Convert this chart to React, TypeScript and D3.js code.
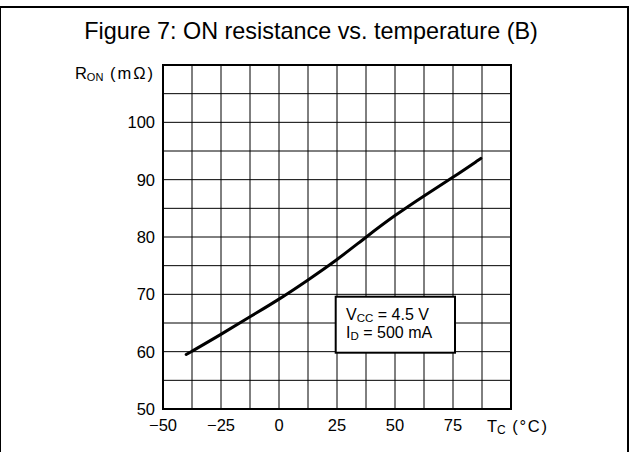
import React from "react";
import * as d3 from "d3";

const temps = [-40, -25, -12.5, 0, 12.5, 25, 37.5, 50, 62.5, 75, 87];
const ron = [59.5, 63.0, 66.1, 69.1, 72.5, 76.0, 80.0, 83.8, 87.2, 90.4, 93.7];
const xTickLabels = [-50, -25, 0, 25, 50, 75];
const yTickLabels = [50, 60, 70, 80, 90, 100];
const xGrid = d3.range(-50, 100.01, 12.5);
const yGrid = d3.range(50, 110.01, 5);

const W = 629;
const H = 452;
const FONT = "'Liberation Sans', Arial, Helvetica, sans-serif";

export default function App() {
  const x = d3.scaleLinear().domain([-50, 100]).range([163, 511]);
  const y = d3.scaleLinear().domain([50, 110]).range([409, 65]);
  const pts: [number, number][] = temps.map((t, i) => [t, ron[i]]);
  const line = d3
    .line<[number, number]>()
    .x((d) => x(d[0]))
    .y((d) => y(d[1]))
    .curve(d3.curveBasis);
  const fmt = (v: number) => (v < 0 ? "\u2212" + Math.abs(v) : String(v));

  return (
    <svg
      width={W}
      height={H}
      style={{ position: "absolute", left: 0, top: 0, background: "#fff" }}
      fontFamily={FONT}
    >
      <rect x={0} y={7} width={628} height={470} fill="#fff" stroke="#000" strokeWidth={2} />
      <text x={311} y={39} textAnchor="middle" fontSize={23.4} fill="#000">
        Figure 7: ON resistance vs. temperature (B)
      </text>

      {xGrid.map((v) => (
        <line key={"gx" + v} x1={x(v)} x2={x(v)} y1={y(110)} y2={y(50)} stroke="#000" strokeWidth={1} />
      ))}
      {yGrid.map((v) => (
        <line key={"gy" + v} x1={x(-50)} x2={x(100)} y1={y(v)} y2={y(v)} stroke="#000" strokeWidth={1} />
      ))}
      <rect
        x={x(-50)}
        y={y(110)}
        width={x(100) - x(-50)}
        height={y(50) - y(110)}
        fill="none"
        stroke="#000"
        strokeWidth={2}
      />

      {yTickLabels.map((v) => (
        <text key={"yl" + v} x={155} y={y(v) + 6} textAnchor="end" fontSize={16.5} fill="#000">
          {v}
        </text>
      ))}
      {xTickLabels.map((v) => (
        <text key={"xl" + v} x={x(v)} y={431} textAnchor="middle" fontSize={16.5} fill="#000">
          {fmt(v)}
        </text>
      ))}

      <text x={155} y={79} textAnchor="end" fontSize={16.5} fill="#000">
        R
        <tspan fontSize={11} dy={2}>ON</tspan>
        <tspan dy={-2} letterSpacing={2}> (mΩ)</tspan>
      </text>
      <text x={487} y={432} textAnchor="start" fontSize={16.5} fill="#000">
        T
        <tspan fontSize={12} dy={1.5}>C</tspan>
        <tspan dy={-1.5} letterSpacing={1.8}> (°C)</tspan>
      </text>

      <path d={line(pts) || ""} fill="none" stroke="#000" strokeWidth={3} strokeLinecap="round" />

      <rect x={335.7} y={296.7} width={119.3} height={56} fill="#fff" stroke="#000" strokeWidth={2} />
      <text x={346} y={319.5} fontSize={16} fill="#000">
        V
        <tspan fontSize={11.5} dy={2}>CC</tspan>
        <tspan dy={-2}> = 4.5 V</tspan>
      </text>
      <text x={346} y={337.5} fontSize={16} fill="#000">
        I
        <tspan fontSize={11.5} dy={2}>D</tspan>
        <tspan dy={-2}> = 500 mA</tspan>
      </text>
    </svg>
  );
}
